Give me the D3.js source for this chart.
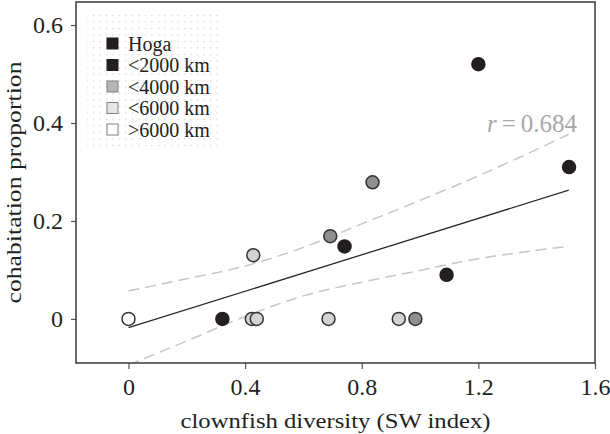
<!DOCTYPE html>
<html>
<head>
<meta charset="utf-8">
<script src="https://cdn.jsdelivr.net/npm/d3@7"></script>
<style>
  body { margin: 0; background: #fff; }
  svg { display: block; font-family: "Liberation Serif", "Times New Roman", serif; }
</style>
</head>
<body>
<div id="grafico"></div>
<script>
// dados
const diversity    = [0, 0.322, 0.428, 0.423, 0.44, 0.686, 0.692, 0.741, 0.837, 0.927, 0.984, 1.091, 1.2, 1.511];
const cohabitation = [0, 0, 0.130, 0, 0, 0, 0.169, 0.148, 0.279, 0, 0, 0.09, 0.52, 0.31];
const distGroup    = [">6000 km", "<2000 km", "<6000 km", "<6000 km", "<6000 km", "<6000 km", "<4000 km",
                      "<2000 km", "<4000 km", "<6000 km", "<4000 km", "<2000 km", "<2000 km", "Hoga"];

const groups = ["Hoga", "<2000 km", "<4000 km", "<6000 km", ">6000 km"];

// recta de regressão e intervalo de confiança
const fitX = [0, 1.51];
const fitY = [-0.018, 0.263];
const ciX     = [0, 0.2, 0.4, 0.6, 0.8, 1.0, 1.2, 1.4, 1.51];
const ciUpper = [0.057, 0.082, 0.108, 0.146, 0.194, 0.242, 0.292, 0.346, 0.377];
const ciLower = [-0.094, -0.045, 0.005, 0.047, 0.075, 0.099, 0.123, 0.140, 0.148];

const xTicks = [0, 0.4, 0.8, 1.2, 1.6];
const yTicks = [0, 0.2, 0.4, 0.6];
const rLabel = "0.684";

const width = 610, height = 434;
const plot = { left: 76, right: 595, top: 2, bottom: 363 };

const svg = d3.select("#grafico").append("svg")
    .attr("width", width)
    .attr("height", height);

const x = d3.scaleLinear().domain([-0.18, 1.6]).range([plot.left, plot.right]);
const y = d3.scaleLinear().domain([-0.09, 0.647]).range([plot.bottom, plot.top]);

const fillColor = d3.scaleOrdinal()
    .domain(groups)
    .range(["#231f20", "#231f20", "#8f8f8f", "#d3d3d3", "#ffffff"]);

const defs = svg.append("defs");
defs.append("clipPath").attr("id", "clip")
  .append("rect")
    .attr("x", plot.left).attr("y", plot.top)
    .attr("width", plot.right - plot.left).attr("height", plot.bottom - plot.top);

const pat = defs.append("pattern").attr("id", "pontos")
    .attr("patternUnits", "userSpaceOnUse")
    .attr("width", 6.5).attr("height", 6.5);
pat.append("rect").attr("x", 2).attr("y", 2).attr("width", 1).attr("height", 1).attr("fill", "#b4b4b4");

// legenda (fundo pontilhado)
svg.append("rect")
    .attr("x", 87).attr("y", 12)
    .attr("width", 133).attr("height", 137)
    .attr("fill", "url(#pontos)");

const ly = d3.scalePoint().domain(groups).range([43.5, 129.5]);
const legend = svg.append("g").selectAll("g")
    .data(groups)
    .join("g")
    .attr("transform", d => `translate(107, ${ly(d)})`);

legend.append("rect")
    .attr("x", 0).attr("y", -5.5)
    .attr("width", 11).attr("height", 11)
    .attr("fill", (d, i) => ["#231f20", "#231f20", "#b5b5b5", "#e6e6e6", "#ffffff"][i])
    .attr("stroke", (d, i) => i < 2 ? "#231f20" : "#808080")
    .attr("stroke-width", 1);

legend.append("text")
    .attr("x", 21)
    .attr("dy", "0.35em")
    .attr("font-size", "20px")
    .attr("fill", "#231f20")
    .text(d => d);

// intervalo de confiança
const g = svg.append("g").attr("clip-path", "url(#clip)");
const linha = d3.line().x(d => x(d[0])).y(d => y(d[1])).curve(d3.curveMonotoneX);

[ciUpper, ciLower].forEach(serie => {
    g.append("path")
        .datum(ciX.map((v, i) => [v, serie[i]]))
        .attr("d", linha)
        .attr("fill", "none")
        .attr("stroke", "#c6c6c6")
        .attr("stroke-width", 1.5)
        .attr("stroke-dasharray", "11,6");
});

g.append("path")
    .datum(fitX.map((v, i) => [v, fitY[i]]))
    .attr("d", d3.line().x(d => x(d[0])).y(d => y(d[1])))
    .attr("fill", "none")
    .attr("stroke", "#2a2a2a")
    .attr("stroke-width", 1.3);

// pontos
svg.append("g").selectAll("circle")
    .data(diversity.map((v, i) => ({ x: v, y: cohabitation[i], grupo: distGroup[i] })))
    .join("circle")
    .attr("cx", d => x(d.x))
    .attr("cy", d => y(d.y))
    .attr("r", 6.5)
    .attr("fill", d => fillColor(d.grupo))
    .attr("stroke", d => d.grupo === "Hoga" || d.grupo === "<2000 km" ? "#231f20" : "#333")
    .attr("stroke-width", 1.5);

// r
const rText = svg.append("text")
    .attr("x", 577).attr("y", 132)
    .attr("text-anchor", "end")
    .attr("font-size", "25px")
    .attr("fill", "#a8a8a8");
rText.append("tspan").attr("font-style", "italic").text("r");
rText.append("tspan").text("\u2009=\u2009" + rLabel);

// eixos
const fmt = d => d === 0 ? "0" : d3.format(".1f")(d);

const xAxis = svg.append("g")
    .attr("transform", `translate(0, ${plot.bottom})`)
    .call(d3.axisBottom(x).tickValues(xTicks).tickFormat(fmt).tickSize(6).tickPadding(9));

const yAxis = svg.append("g")
    .attr("transform", `translate(${plot.left}, 0)`)
    .call(d3.axisLeft(y).tickValues(yTicks).tickFormat(fmt).tickSize(5).tickPadding(8));

[xAxis, yAxis].forEach(ax => {
    ax.select(".domain").remove();
    ax.selectAll("line").attr("stroke", "#555").attr("stroke-width", 1.2);
    ax.selectAll("text")
        .attr("font-family", "Liberation Serif, Times New Roman, serif")
        .attr("font-size", "24px")
        .attr("fill", "#231f20");
});

// moldura
svg.append("rect")
    .attr("x", plot.left).attr("y", plot.top)
    .attr("width", plot.right - plot.left).attr("height", plot.bottom - plot.top)
    .attr("fill", "none")
    .attr("stroke", "#3a3a3a")
    .attr("stroke-width", 1.5);

// títulos dos eixos
svg.append("text")
    .attr("x", (plot.left + plot.right) / 2).attr("y", 428)
    .attr("text-anchor", "middle")
    .attr("font-size", "22px")
    .attr("textLength", 310)
    .attr("lengthAdjust", "spacingAndGlyphs")
    .attr("fill", "#231f20")
    .text("clownfish diversity (SW index)");

svg.append("text")
    .attr("transform", `translate(21, ${(plot.top + plot.bottom) / 2}) rotate(-90)`)
    .attr("text-anchor", "middle")
    .attr("font-size", "22px")
    .attr("textLength", 242)
    .attr("lengthAdjust", "spacingAndGlyphs")
    .attr("fill", "#231f20")
    .text("cohabitation proportion");
</script>
</body>
</html>
